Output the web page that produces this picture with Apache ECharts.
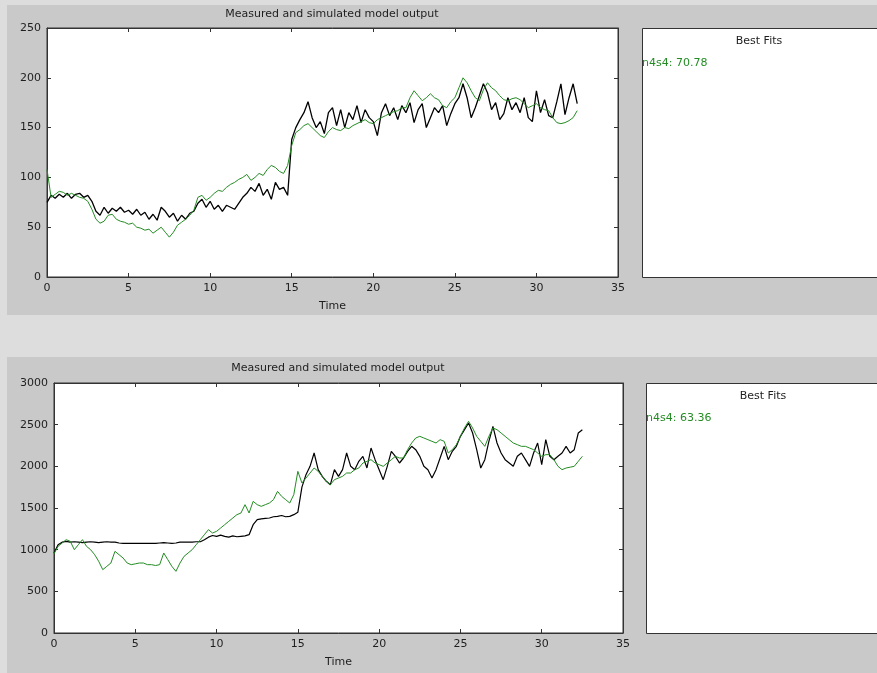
<!DOCTYPE html>
<html><head><meta charset="utf-8">
<script src="https://cdn.jsdelivr.net/npm/echarts@6/dist/echarts.min.js"></script>
<style>
html,body{margin:0;padding:0;width:877px;height:673px;background:#dddddd;overflow:hidden}
.fig{position:absolute;background:#c9c9c9}
#chart{position:absolute;left:0;top:0;width:877px;height:673px}
</style></head><body>
<div class="fig" style="left:7px;top:5px;width:870px;height:310px"></div>
<div class="fig" style="left:7px;top:357px;width:870px;height:316px"></div>
<div id="chart"></div>
<script>
const timeSamples = [0,0.25,0.5,0.75,1,1.25,1.5,1.75,2,2.25,2.5,2.75,3,3.25,3.5,3.75,4,4.25,4.5,4.75,5,5.25,5.5,5.75,6,6.25,6.5,6.75,7,7.25,7.5,7.75,8,8.25,8.5,8.75,9,9.25,9.5,9.75,10,10.25,10.5,10.75,11,11.25,11.5,11.75,12,12.25,12.5,12.75,13,13.25,13.5,13.75,14,14.25,14.5,14.75,15,15.25,15.5,15.75,16,16.25,16.5,16.75,17,17.25,17.5,17.75,18,18.25,18.5,18.75,19,19.25,19.5,19.75,20,20.25,20.5,20.75,21,21.25,21.5,21.75,22,22.25,22.5,22.75,23,23.25,23.5,23.75,24,24.25,24.5,24.75,25,25.25,25.5,25.75,26,26.25,26.5,26.75,27,27.25,27.5,27.75,28,28.25,28.5,28.75,29,29.25,29.5,29.75,30,30.25,30.5,30.75,31,31.25,31.5,31.75,32,32.25,32.5];

const topMeasured = [75,82,79,83, 80,84,79,83, 84,80,82,76, 66,62,70,64, 69,66,70,65, 67,63,68,62, 65,58,63,57, 70,66,60,64, 56,62,58,64, 66,74,78,70, 76,68,72,66, 72,70,68,74, 80,84,90,86, 94,82,88,78, 95,88,90,82, 138,150,158,165, 176,160,150,156, 144,165,170,152, 168,150,165,158, 172,155,168,160, 156,142,165,174, 162,170,158,172, 165,175,155,168, 174,150,160,170, 165,172,152,164, 174,180,194,180, 160,170,182,194, 185,168,175,158, 164,180,168,175, 165,180,160,156, 187,165,178,162, 160,176,194,163, 180,194,174];
const topSimulated = [108,80,83,86, 85,82,84,82, 80,79,76,68, 58,54,56,62, 63,58,56,55, 53,54,50,49, 47,48,44,47, 50,45,40,45, 52,55,58,62, 67,80,82,77, 80,84,87,86, 90,93,95,98, 100,103,97,100, 104,102,108,112, 110,106,104,112, 132,145,148,152, 154,150,146,142, 140,146,150,148, 147,150,149,152, 154,156,158,155, 154,158,160,162, 164,166,167,170, 170,180,187,182, 177,180,184,180, 178,172,170,176, 180,190,200,195, 187,180,177,188, 195,190,187,182, 178,177,179,180, 178,174,170,172, 174,170,168,167, 160,155,154,155, 157,160,167];

const bottomMeasured = [960,1060,1090,1100, 1090,1095,1090,1085, 1090,1095,1090,1085, 1090,1095,1090,1090, 1080,1075,1075,1075, 1075,1075,1075,1075, 1075,1075,1080,1085, 1080,1075,1080,1090, 1090,1090,1090,1095, 1095,1120,1150,1170, 1160,1175,1160,1150, 1165,1155,1160,1165, 1180,1300,1360,1370, 1375,1380,1395,1400, 1410,1395,1400,1420, 1450,1750,1900,2000, 2160,1960,1880,1820, 1780,1960,1880,1960, 2160,2000,1960,2060, 2120,1980,2220,2080, 1960,1840,2000,2180, 2120,2040,2100,2180, 2240,2200,2120,2000, 1960,1860,1960,2100, 2240,2080,2180,2240, 2360,2440,2520,2400, 2200,1980,2080,2300, 2480,2280,2160,2080, 2040,2000,2120,2160, 2080,2000,2160,2280, 2020,2320,2120,2080, 2120,2160,2240,2160, 2200,2400,2440];
const bottomSimulated = [950,1040,1080,1120, 1100,1000,1060,1120, 1040,1000,940,860, 760,800,840,980, 940,900,840,820, 830,840,840,820, 820,810,820,960, 880,800,740,840, 920,960,1000,1060, 1120,1180,1240,1200, 1220,1260,1300,1340, 1380,1420,1440,1540, 1440,1580,1540,1520, 1540,1560,1600,1700, 1640,1600,1560,1660, 1940,1800,1860,1920, 1980,1940,1880,1820, 1780,1840,1860,1880, 1920,1920,1960,1980, 2040,2060,2080,2040, 2020,2000,2040,2080, 2120,2100,2100,2200, 2280,2340,2360,2340, 2320,2300,2280,2320, 2300,2160,2200,2260, 2360,2460,2540,2460, 2360,2300,2240,2360, 2460,2440,2400,2360, 2320,2280,2260,2240, 2240,2220,2200,2160, 2120,2140,2140,2080, 2000,1960,1980,1990, 2000,2060,2120];

const xTicks = {min: 0, max: 35, interval: 5};
const topY = {min: 0, max: 250, interval: 50};
const bottomY = {min: 0, max: 3000, interval: 500};
const titleText = 'Measured and simulated model output';
const xName = 'Time';
const fitsTitle = 'Best Fits';
const topFit = 'n4s4: 70.78';
const bottomFit = 'n4s4: 63.36';

const FONT = '"DejaVu Sans", sans-serif';
const AX = '#333333';
const TXT = '#1e1e1e';
const GREEN = '#238c23';

function pairs(t, v) { return v.map((y, i) => [t[i], y]); }
const plain = v => String(v);

function xAxes(grid) {
  return [
    {gridIndex: grid, type: 'value', position: 'bottom', min: xTicks.min, max: xTicks.max, interval: xTicks.interval,
     axisLine: {show: true, onZero: false, lineStyle: {color: AX}},
     axisTick: {show: true, inside: true, length: 4, lineStyle: {color: AX}},
     axisLabel: {fontFamily: FONT, fontSize: 11, color: TXT, margin: 6, formatter: plain},
     splitLine: {show: false},
     name: xName, nameLocation: 'middle', nameGap: 24,
     nameTextStyle: {fontFamily: FONT, fontSize: 11, color: TXT}},
    {gridIndex: grid, type: 'value', position: 'top', min: xTicks.min, max: xTicks.max, interval: xTicks.interval,
     axisLine: {show: true, onZero: false, lineStyle: {color: AX}},
     axisTick: {show: true, inside: true, length: 4, lineStyle: {color: AX}},
     axisLabel: {show: false}, splitLine: {show: false}}
  ];
}
function yAxes(grid, s) {
  return [
    {gridIndex: grid, type: 'value', position: 'left', min: s.min, max: s.max, interval: s.interval,
     axisLine: {show: true, onZero: false, lineStyle: {color: AX}},
     axisTick: {show: true, inside: true, length: 4, lineStyle: {color: AX}},
     axisLabel: {fontFamily: FONT, fontSize: 11, color: TXT, margin: 6, formatter: plain},
     splitLine: {show: false}},
    {gridIndex: grid, type: 'value', position: 'right', min: s.min, max: s.max, interval: s.interval,
     axisLine: {show: true, onZero: false, lineStyle: {color: AX}},
     axisTick: {show: true, inside: true, length: 4, lineStyle: {color: AX}},
     axisLabel: {show: false}, splitLine: {show: false}}
  ];
}
function line(xi, yi, data, color, w) {
  return {type: 'line', xAxisIndex: xi, yAxisIndex: yi, data: data, showSymbol: false, symbol: 'none',
          lineStyle: {color: color, width: w}, itemStyle: {color: color}, animation: false, silent: true};
}
function txt(x, y, text, opts) {
  return Object.assign({type: 'text', x: x, y: y, silent: true,
    style: Object.assign({text: text, font: '11px ' + FONT, fill: TXT,
      align: 'center', verticalAlign: 'middle', textAlign: 'center', textVerticalAlign: 'middle'}, opts || {})});
}

const chart = echarts.init(document.getElementById('chart'), null, {renderer: 'canvas'});
chart.setOption({
  backgroundColor: 'transparent',
  animation: false,
  grid: [
    {left: 47, top: 28, width: 571, height: 249, show: true, backgroundColor: '#ffffff', borderColor: AX, borderWidth: 1},
    {left: 54, top: 383, width: 569, height: 250, show: true, backgroundColor: '#ffffff', borderColor: AX, borderWidth: 1}
  ],
  xAxis: xAxes(0).concat(xAxes(1)),
  yAxis: yAxes(0, topY).concat(yAxes(1, bottomY)),
  series: [
    line(0, 0, pairs(timeSamples, topMeasured), '#000000', 1.3),
    line(0, 0, pairs(timeSamples, topSimulated), GREEN, 1),
    line(2, 2, pairs(timeSamples, bottomMeasured), '#000000', 1.2),
    line(2, 2, pairs(timeSamples, bottomSimulated), GREEN, 1)
  ],
  graphic: [
    {type: 'rect', silent: true, shape: {x: 642.5, y: 28.5, width: 260, height: 249}, style: {fill: '#ffffff', stroke: AX, lineWidth: 1}},
    {type: 'rect', silent: true, shape: {x: 646.5, y: 383.5, width: 260, height: 250}, style: {fill: '#ffffff', stroke: AX, lineWidth: 1}},
    txt(332, 14, titleText),
    txt(338, 368, titleText),
    txt(759, 41, fitsTitle),
    txt(763, 396, fitsTitle),
    txt(642, 63, topFit, {fill: GREEN, align: 'left', textAlign: 'left'}),
    txt(646, 418, bottomFit, {fill: GREEN, align: 'left', textAlign: 'left'})
  ]
});
</script>
</body></html>
